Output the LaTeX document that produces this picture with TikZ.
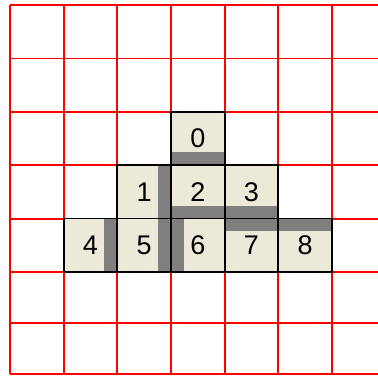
\documentclass[tikz,border=0pt]{standalone}
\usepackage{fontspec}
\setmainfont{Liberation Sans}
\definecolor{cellbg}{HTML}{ECE9D8}
\definecolor{bargray}{HTML}{7F7F7F}
\definecolor{gridred}{HTML}{FF0000}
\begin{document}
\begin{tikzpicture}[x=1pt,y=-1pt,
  gridline/.style={draw=gridred, line width=1.8pt},
  cell/.style={draw=black, line width=1.8pt, fill=cellbg, minimum width=53.65pt,
    minimum height=53.4pt, inner sep=0pt, font=\fontsize{27}{27}\selectfont},
  barright/.style={path picture={\fill[bargray] ([xshift=-13pt]path picture bounding box.north east) rectangle (path picture bounding box.south east);}},
  barleft/.style={path picture={\fill[bargray] (path picture bounding box.north west) rectangle ([xshift=13pt]path picture bounding box.south west);}},
  barbottom/.style={path picture={\fill[bargray] ([yshift=13pt]path picture bounding box.south west) rectangle (path picture bounding box.south east);}},
  bartop/.style={path picture={\fill[bargray] (path picture bounding box.north west) rectangle ([yshift=-13pt]path picture bounding box.north east);}}
]
\useasboundingbox (0,0) rectangle (378,376);
\begin{scope}
\clip (0,0) rectangle (378,376);
\foreach \gx in {10,63.65,117.3,170.95,224.6,278.25,331.9}
  \draw[gridline] (\gx,5) -- (\gx,374);
\foreach \gy in {5,58.4,111.8,165.2,218.6,271.7,322.9,374}
  \draw[gridline] (10,\gy) -- (380,\gy);
\end{scope}
% cells
\node[cell,barbottom] (c0) at (197.775,138.5) {0};
\node[cell,barright]  (c1) at (144.125,191.9) {1};
\node[cell,barbottom] (c2) at (197.775,191.9) {2};
\node[cell,barbottom] (c3) at (251.425,191.9) {3};
\node[cell,barright]  (c4) at (90.475,245.15) {4};
\node[cell,barright]  (c5) at (144.125,245.15) {5};
\node[cell,barleft]   (c6) at (197.775,245.15) {6};
\node[cell,bartop]    (c7) at (251.425,245.15) {7};
\node[cell,bartop]    (c8) at (305.075,245.15) {8};
\end{tikzpicture}
\end{document}
